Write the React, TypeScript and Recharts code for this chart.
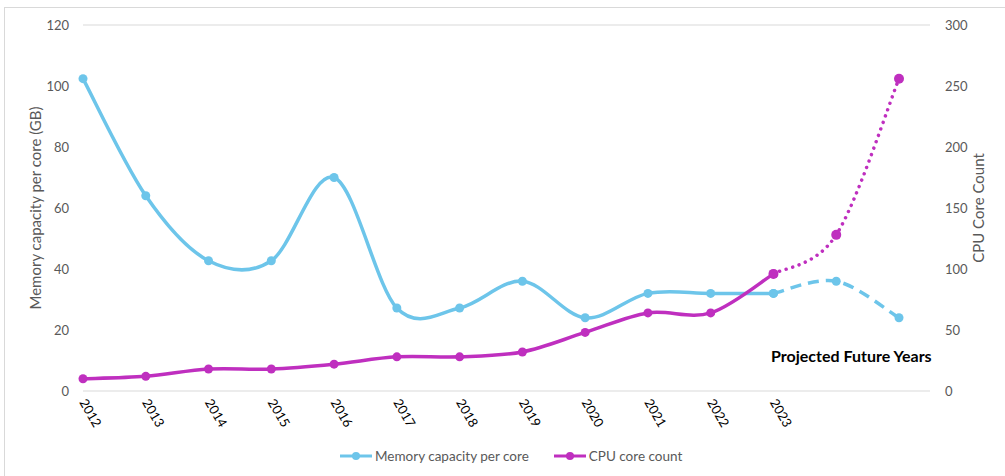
import React from "react";
import { CartesianGrid, Line, LineChart, XAxis, YAxis } from "recharts";

// categories: measured years, then two unlabeled projected slots
const tickLabels = [
  "2012", "2013", "2014", "2015", "2016", "2017",
  "2018", "2019", "2020", "2021", "2022", "2023", "", "",
];

// memory capacity per core (GB), left axis
const memoryActual = [102.4, 64, 42.7, 42.7, 70, 27.2, 27.2, 36, 24, 32, 32, 32, null, null];
const memoryProjected = [null, null, null, null, null, null, null, null, null, null, null, 32, 36, 24];

// CPU core count, right axis
const cpuActual = [10, 12, 18, 18, 22, 28, 28, 32, 48, 64, 64, 96, null, null];
const cpuProjected = [null, null, null, null, null, null, null, null, null, null, null, 96, 128, 256];

const leftTicks = [0, 20, 40, 60, 80, 100, 120];
const rightTicks = [0, 50, 100, 150, 200, 250, 300];

const BLUE = "#6DC5EA";
const MAGENTA = "#BF2FBF";
const FONT = "Lato, 'Open Sans', sans-serif";

const data = tickLabels.map((_, i) => ({
  slot: i,
  memoryActual: memoryActual[i],
  memoryProjected: memoryProjected[i],
  cpuActual: cpuActual[i],
  cpuProjected: cpuProjected[i],
}));

/** Catmull-Rom style smoothing, close to Excel's "smoothed line". */
function smoothCurve(context: any) {
  let pts: [number, number][] = [];
  return {
    areaStart() {},
    areaEnd() {},
    lineStart() {
      pts = [];
    },
    point(x: number, y: number) {
      pts.push([+x, +y]);
    },
    lineEnd() {
      const n = pts.length;
      if (!n) return;
      context.moveTo(pts[0][0], pts[0][1]);
      for (let i = 0; i < n - 1; i++) {
        const p0 = pts[Math.max(i - 1, 0)];
        const p1 = pts[i];
        const p2 = pts[i + 1];
        const p3 = pts[Math.min(i + 2, n - 1)];
        context.bezierCurveTo(
          p1[0] + (p2[0] - p0[0]) / 6,
          p1[1] + (p2[1] - p0[1]) / 6,
          p2[0] - (p3[0] - p1[0]) / 6,
          p2[1] - (p3[1] - p1[1]) / 6,
          p2[0],
          p2[1]
        );
      }
    },
  };
}

function YearTick({ x, y, payload }: any) {
  const label = tickLabels[payload.value];
  if (!label) return null;
  return (
    <g transform={`translate(${x},${y})`}>
      <text
        x={0}
        y={0}
        dy="0.35em"
        textAnchor="start"
        transform="rotate(60)"
        fill="#000"
        fontSize={13}
        fontFamily={FONT}
      >
        {label}
      </text>
    </g>
  );
}

function LegendItem({ color, text }: { color: string; text: string }) {
  return (
    <div style={{ display: "flex", alignItems: "center" }}>
      <svg width={32} height={10} style={{ marginRight: 3 }}>
        <line x1={0} y1={5} x2={32} y2={5} stroke={color} strokeWidth={3} />
        <circle cx={16} cy={5} r={4} fill={color} />
      </svg>
      <span>{text}</span>
    </div>
  );
}

const tickStyle = { fontSize: 13, fill: "#595959", fontFamily: FONT };
const titleStyle = { fontSize: 15, fill: "#595959", fontFamily: FONT, textAnchor: "middle" as const };

export default function App() {
  const curve = smoothCurve as any;
  return (
    <div
      style={{
        position: "absolute",
        left: 0,
        top: 0,
        width: 1005,
        height: 476,
        background: "#fff",
        fontFamily: FONT,
      }}
    >
      <div
        style={{
          position: "absolute",
          left: 4,
          top: 7,
          right: -2,
          bottom: -2,
          borderLeft: "1px solid #d9d9d9",
          borderTop: "1px solid #d9d9d9",
        }}
      />
      <LineChart
        width={1005}
        height={476}
        data={data}
        margin={{ top: 25, right: 0, bottom: 0, left: 0 }}
      >
        <CartesianGrid vertical={false} stroke="#d9d9d9" strokeWidth={1.2} />
        <XAxis
          dataKey="slot"
          type="category"
          height={85}
          padding={{ left: 0, right: 31 }}
          axisLine={false}
          tickLine={false}
          tickSize={6}
          tickMargin={3}
          interval={0}
          tick={<YearTick />}
        />
        <YAxis
          yAxisId="left"
          orientation="left"
          width={83}
          domain={[0, 120]}
          ticks={leftTicks}
          axisLine={false}
          tickLine={false}
          tickSize={6}
          tickMargin={8}
          tick={tickStyle}
          label={{
            value: "Memory capacity per core (GB)",
            angle: -90,
            position: "center",
            dx: -6,
            style: titleStyle,
          }}
        />
        <YAxis
          yAxisId="right"
          orientation="right"
          width={75}
          domain={[0, 300]}
          ticks={rightTicks}
          axisLine={false}
          tickLine={false}
          tickSize={6}
          tickMargin={9}
          tick={tickStyle}
          label={{
            value: "CPU Core Count",
            angle: -90,
            position: "center",
            dx: 11,
            style: titleStyle,
          }}
        />
        <Line
          yAxisId="left"
          dataKey="memoryProjected"
          type={curve}
          stroke={BLUE}
          strokeWidth={3.5}
          strokeDasharray="11 7"
          dot={{ r: 4.5, fill: BLUE, stroke: "none" }}
          activeDot={false}
          isAnimationActive={false}
        />
        <Line
          yAxisId="right"
          dataKey="cpuProjected"
          type={curve}
          stroke={MAGENTA}
          strokeWidth={3.5}
          strokeDasharray="0.01 6.8"
          strokeLinecap="round"
          dot={{ r: 5, fill: MAGENTA, stroke: "none" }}
          activeDot={false}
          isAnimationActive={false}
        />
        <Line
          yAxisId="left"
          dataKey="memoryActual"
          type={curve}
          stroke={BLUE}
          strokeWidth={3.5}
          dot={{ r: 4.5, fill: BLUE, stroke: "none" }}
          activeDot={false}
          isAnimationActive={false}
        />
        <Line
          yAxisId="right"
          dataKey="cpuActual"
          type={curve}
          stroke={MAGENTA}
          strokeWidth={3.5}
          dot={{ r: 4.5, fill: MAGENTA, stroke: "none" }}
          activeDot={false}
          isAnimationActive={false}
        />
      </LineChart>
      <div
        style={{
          position: "absolute",
          left: 771,
          top: 346,
          fontSize: 16,
          fontWeight: 700,
          color: "#000",
          whiteSpace: "nowrap",
        }}
      >
        Projected Future Years
      </div>
      <div
        style={{
          position: "absolute",
          left: 340,
          top: 448,
          display: "flex",
          gap: 25,
          fontSize: 13.5,
          color: "#595959",
        }}
      >
        <LegendItem color={BLUE} text="Memory capacity per core" />
        <LegendItem color={MAGENTA} text="CPU core count" />
      </div>
    </div>
  );
}
